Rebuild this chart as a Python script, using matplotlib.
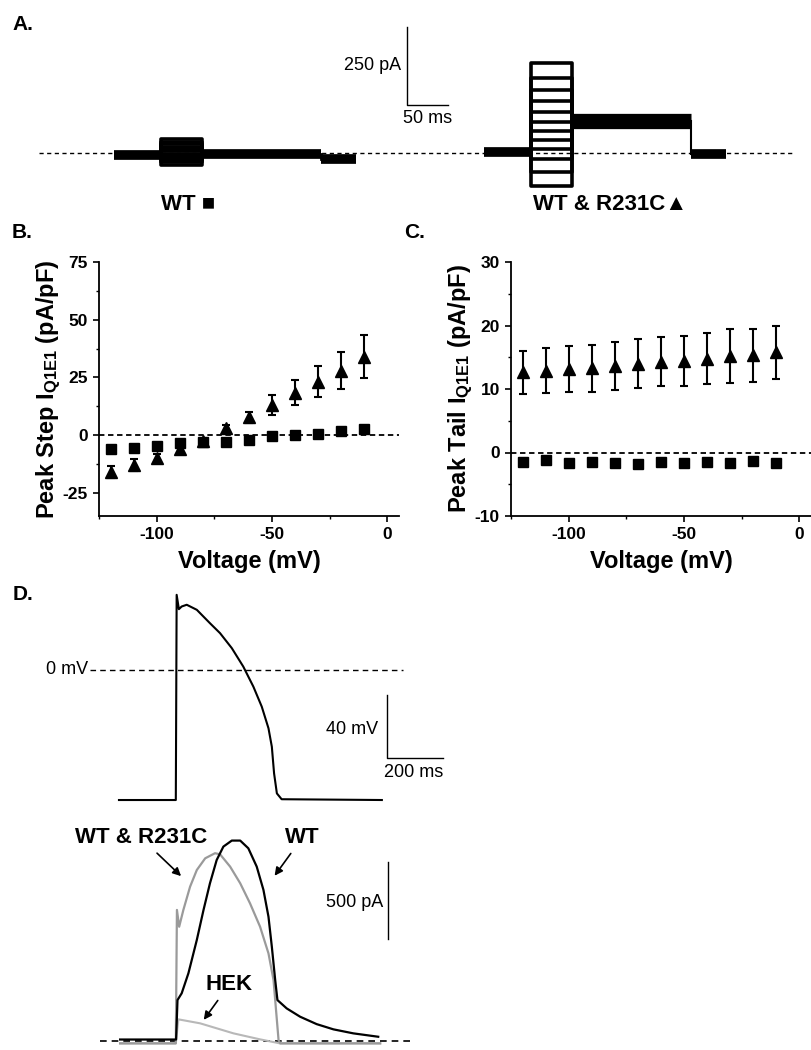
import matplotlib
matplotlib.use("Agg")
import matplotlib.pyplot as plt
from matplotlib.ticker import MultipleLocator

plt.rcParams["font.family"] = ["Liberation Sans", "DejaVu Sans"]
plt.rcParams["mathtext.default"] = "regular"
plt.rcParams["axes.unicode_minus"] = False

W, H = 812, 1050

# ---------------- data ----------------
# panels B and C: test voltages (mV)
voltages = [-120, -110, -100, -90, -80, -70, -60, -50, -40, -30, -20, -10]

# B: peak step current (pA/pF)
step_wt = [-5.8, -5.4, -4.8, -3.6, -2.9, -2.9, -2.2, -0.4, 0.0, 0.7, 1.6, 2.5]
step_wt_err = [0.8, 0.7, 0.7, 0.6, 0.6, 0.5, 0.5, 0.5, 0.5, 0.5, 0.6, 0.7]
step_mut = [-16.0, -13.0, -9.7, -6.2, -2.5, 2.9, 7.7, 13.0, 18.4, 23.2, 28.0, 34.0]
step_mut_err = [2.5, 2.5, 1.5, 1.5, 1.0, 1.5, 2.5, 4.2, 5.4, 6.7, 8.0, 9.3]

# C: peak tail current (pA/pF)
tail_wt = [-1.5, -1.2, -1.6, -1.5, -1.6, -1.8, -1.5, -1.6, -1.5, -1.6, -1.3, -1.7]
tail_wt_err = [0.4, 0.4, 0.4, 0.4, 0.4, 0.4, 0.4, 0.4, 0.4, 0.4, 0.4, 0.4]
tail_mut = [12.6, 12.9, 13.2, 13.3, 13.6, 14.0, 14.3, 14.4, 14.75, 15.2, 15.3, 15.8]
tail_mut_err = [3.4, 3.5, 3.6, 3.7, 3.8, 3.8, 3.9, 4.0, 4.0, 4.2, 4.2, 4.2]

# A: voltage-clamp protocol epochs (ms) and current levels (pA)
a_epochs = [0, 57, 107, 252, 295]
wt_levels = [-8, -5, -20]            # holding, tail, return
wt_step_levels = [45, 36, 28, 20, 12, 5, -2, -9, -16, -23, -30, -38]
mut_levels = [2, 103, -3]
mut_step_levels = [288, 240, 200, 165, 132, 100, 70, 42, 12, -20, -60, -105]
mut_offset = 451

# D: action potential clamp waveform (ms, mV)
ap_t = [-204, -1, 2, 10, 20, 38, 74, 121, 157, 199, 240, 276, 306, 330, 342, 350,
        360, 377, 735]
ap_v = [-82.5, -82.5, 47.6, 38.5, 40.2, 41.3, 38.1, 29.6, 23.3, 13.8, 2.1, -10.6,
        -23.3, -37.0, -48.7, -65.6, -78.3, -82.0, -82.5]

# D: AP-clamp currents (ms, pA)
wt_t = [-200, 0, 5, 20, 44, 74, 98, 121, 145, 169, 199, 229, 258, 288, 312, 330,
        342, 354, 362, 395, 443, 502, 562, 633, 722]
wt_i = [10, 10, 266, 310, 440, 656, 851, 1024, 1175, 1262, 1301, 1301, 1251, 1132,
        981, 807, 612, 396, 266, 212, 158, 110, 76, 50, 28]
mix_t = [-200, -1, 3, 11, 26, 50, 74, 104, 139, 157, 193, 229, 264, 300, 330, 348,
         360, 366, 372, 729]
mix_i = [-15, -15, 851, 742, 851, 1002, 1110, 1186, 1219, 1212, 1132, 1024, 894,
         742, 569, 396, 136, 6, -15, -15]
hek_t = [-200, -1, 8, 86, 205, 300, 371, 729]
hek_i = [-15, -15, 141, 115, 50, 11, -15, -15]


def px_axes(fig, x0, y0, x1, y1):
    return fig.add_axes([x0 / W, 1 - y1 / H, (x1 - x0) / W, (y1 - y0) / H])


fig = plt.figure(figsize=(W / 100, H / 100), dpi=100)
fig.patch.set_facecolor("white")

# ---------------- panel A ----------------
axA = px_axes(fig, 0, 0, 812, 220)
axA.set_axis_off()
axA.set_xlim(-139, 851)
axA.set_ylim(-215, 490)
axA.plot([-91, 829], [0, 0], color="black", lw=1.0, ls=(0, (3, 2.5)), zorder=1)

e = a_epochs
# WT traces
for lvl in wt_step_levels:
    axA.plot([e[1], e[1], e[2], e[2]], [wt_levels[0], lvl, lvl, wt_levels[1]],
             color="black", lw=2.6, zorder=3)
for (t0, t1), lvl in zip([(e[0], e[1]), (e[2], e[3]), (e[3], e[4])], wt_levels):
    axA.plot([t0, t1], [lvl, lvl], color="black", lw=7, solid_capstyle="butt", zorder=3)
axA.plot([e[3], e[3]], [wt_levels[1], wt_levels[2]], color="black", lw=2, zorder=3)

# WT & R231C traces
o = mut_offset
for lvl in mut_step_levels:
    axA.plot([o + e[1], o + e[1], o + e[2], o + e[2]],
             [mut_levels[0], lvl, lvl, mut_levels[1]], color="black", lw=2.6, zorder=3)
for (t0, t1), lvl in zip([(e[0], e[1]), (e[2], e[3]), (e[3], e[4])], mut_levels):
    lw = 11 if lvl == mut_levels[1] else 7
    axA.plot([o + t0, o + t1], [lvl, lvl], color="black", lw=lw,
             solid_capstyle="butt", zorder=3)
axA.plot([o + e[3], o + e[3]], [mut_levels[1], mut_levels[2]], color="black", lw=1.5, zorder=3)

# scale bar 250 pA / 50 ms
axA.plot([357, 357, 407], [404, 154, 154], color="black", lw=1.0)
axA.text(350, 279, "250 pA", ha="right", va="center", fontsize=13)
axA.text(382, 110, "50 ms", ha="center", va="center", fontsize=13)

fig.text(12 / W, 1 - 25 / H, "A.", fontsize=15, fontweight="bold", va="center")
fig.text(188 / W, 1 - 205 / H, "WT \u25a0", fontsize=16, fontweight="bold",
         ha="center", va="center")
fig.text(610 / W, 1 - 205 / H, "WT & R231C\u25b2", fontsize=16, fontweight="bold",
         ha="center", va="center")


# ---------------- panels B and C ----------------
def iv_axes(ax, ylim, major, minor, wt, wt_err, mut, mut_err, ylabel):
    ax.set_xlim(-125, 5)
    ax.set_ylim(*ylim)
    ax.axhline(0, color="black", lw=1.3, ls=(0, (3, 2)), zorder=1)
    ax.errorbar(voltages, mut, yerr=mut_err, fmt="^", color="black", ms=9,
                elinewidth=1.5, capsize=3, capthick=1.5, zorder=3)
    ax.errorbar(voltages, wt, yerr=wt_err, fmt="s", color="black", ms=7,
                elinewidth=1.5, capsize=3, capthick=1.5, zorder=3)
    for s in ("top", "right"):
        ax.spines[s].set_visible(False)
    for s in ("left", "bottom"):
        ax.spines[s].set_linewidth(1.3)
    ax.xaxis.set_major_locator(MultipleLocator(50))
    ax.xaxis.set_minor_locator(MultipleLocator(25))
    ax.yaxis.set_major_locator(MultipleLocator(major))
    ax.yaxis.set_minor_locator(MultipleLocator(minor))
    ax.tick_params(which="major", length=4, width=1.2, labelsize=12.5, pad=4)
    ax.tick_params(which="minor", length=2.5, width=1.0)
    for lab in ax.get_xticklabels() + ax.get_yticklabels():
        lab.set_fontweight("bold")
    ax.set_xlabel("Voltage (mV)", fontsize=17, fontweight="bold", labelpad=6)
    ax.set_ylabel(ylabel, fontsize=17, fontweight="bold", labelpad=0)


axB = px_axes(fig, 99, 262, 399, 516)
iv_axes(axB, (-35, 75), 25, 12.5, step_wt, step_wt_err, step_mut, step_mut_err,
        "Peak Step I$_{Q1E1}$ (pA/pF)")
axC = px_axes(fig, 511, 262, 811, 516)
iv_axes(axC, (-10, 30), 10, 5, tail_wt, tail_wt_err, tail_mut, tail_mut_err,
        "Peak Tail I$_{Q1E1}$ (pA/pF)")

fig.text(12 / W, 1 - 233 / H, "B.", fontsize=15, fontweight="bold", va="center")
fig.text(404 / W, 1 - 233 / H, "C.", fontsize=15, fontweight="bold", va="center")

# ---------------- panel D: AP waveform ----------------
axV = px_axes(fig, 0, 580, 500, 815)
axV.set_axis_off()
axV.set_xlim(-629, 1157)
axV.set_ylim(-92, 57)
axV.plot([-307, 811], [0, 0], color="black", lw=1.0, ls=(0, (4, 3)))
axV.plot(ap_t, ap_v, color="black", lw=1.5)
axV.text(-314, 0, "0 mV", ha="right", va="center", fontsize=13)
axV.plot([754, 754, 954], [-15.9, -55.9, -55.9], color="black", lw=1.0)
axV.text(721, -38, "40 mV", ha="right", va="center", fontsize=13)
axV.text(850, -65, "200 ms", ha="center", va="center", fontsize=13)

fig.text(13 / W, 1 - 595 / H, "D.", fontsize=15, fontweight="bold", va="center")

# ---------------- panel D: currents ----------------
axI = px_axes(fig, 0, 815, 500, 1050)
axI.set_axis_off()
axI.set_xlim(-629, 1157)
axI.set_ylim(-58, 1467)
axI.plot([-271, 843], [0, 0], color="black", lw=1.2, ls=(0, (4, 3)), zorder=1)
axI.plot(hek_t, hek_i, color="#b8b8b8", lw=1.5, zorder=2)
axI.plot(mix_t, mix_i, color="#9a9a9a", lw=1.6, zorder=3)
axI.plot(wt_t, wt_i, color="black", lw=1.6, zorder=4)
axI.plot([757, 757], [662, 1162], color="black", lw=1.0)
axI.text(739, 896, "500 pA", ha="right", va="center", fontsize=13)

arrow = dict(arrowstyle="-|>", color="black", lw=1.2, mutation_scale=12)
axI.annotate("WT & R231C", xy=(25, 1058), xytext=(-125, 1318), ha="center",
             va="center", fontsize=16, fontweight="bold", arrowprops=arrow)
axI.annotate("WT", xy=(346, 1058), xytext=(450, 1318), ha="center", va="center",
             fontsize=16, fontweight="bold", arrowprops=arrow)
axI.annotate("HEK", xy=(93, 123), xytext=(189, 364), ha="center", va="center",
             fontsize=16, fontweight="bold", arrowprops=arrow)

fig.savefig("out.png", dpi=100)
